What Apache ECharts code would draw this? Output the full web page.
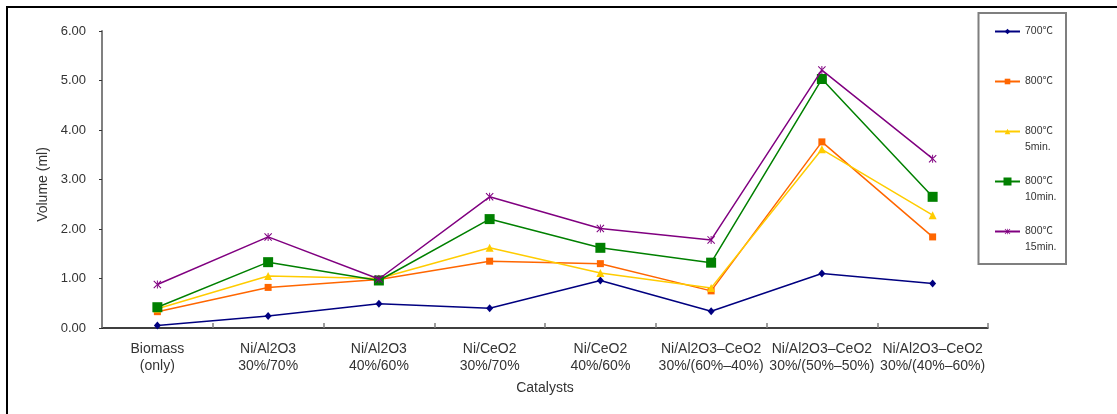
<!DOCTYPE html>
<html>
<head>
<meta charset="utf-8">
<script src="https://cdn.jsdelivr.net/npm/echarts@6/dist/echarts.min.js"></script>
<style>
html,body{margin:0;padding:0;background:#fff;}
#main{width:1117px;height:414px;}
</style>
</head>
<body>
<div id="main"></div>
<script>
const categories = [
  'Biomass\n(only)',
  'Ni/Al2O3\n30%/70%',
  'Ni/Al2O3\n40%/60%',
  'Ni/CeO2\n30%/70%',
  'Ni/CeO2\n40%/60%',
  'Ni/Al2O3–CeO2\n30%/(60%–40%)',
  'Ni/Al2O3–CeO2\n30%/(50%–50%)',
  'Ni/Al2O3–CeO2\n30%/(40%–60%)'
];
const seriesNames = ['700℃', '800℃', '800℃ 5min.', '800℃ 10min.', '800℃ 15min.'];
const legendLabels = ['700℃', '800℃', ' \n800℃\n5min.', ' \n800℃\n10min.', ' \n800℃\n15min.'];
const v700 = [0.05, 0.24, 0.49, 0.40, 0.96, 0.34, 1.10, 0.90];
const v800 = [0.33, 0.82, 0.98, 1.35, 1.30, 0.75, 3.76, 1.84];
const v800_5 = [0.39, 1.05, 1.00, 1.62, 1.11, 0.81, 3.61, 2.28];
const v800_10 = [0.42, 1.33, 0.96, 2.20, 1.62, 1.32, 5.03, 2.65];
const v800_15 = [0.88, 1.84, 0.99, 2.65, 2.01, 1.78, 5.21, 3.42];
const yTicks = { min: 0, max: 6, interval: 1 };

const seriesData = [v700, v800, v800_5, v800_10, v800_15];
const colors = ['#000080', '#FF6600', '#FFCC00', '#008000', '#800080'];
const asterisk = 'path://M4.4 0 L5.6 0 L5.6 10 L4.4 10 Z M0 0.9 L0.9 0 L10 9.1 L9.1 10 Z M10 0.9 L9.1 0 L0 9.1 L0.9 10 Z';
const symbols = ['diamond', 'rect', 'triangle', 'rect', asterisk];
const sizes = [[7, 8], 7, 8, 10, 8];
const legendIconH = [7, 7, 7, 10, 7];
const legendCenters = [31.5, 81.5, 131.5, 181.5, 231.5];
const FONT = '"Liberation Sans", Arial, "Noto Sans CJK KR", sans-serif';

const chart = echarts.init(document.getElementById('main'), null, { renderer: 'canvas' });

const legends = seriesNames.map((n, i) => {
  const lines = legendLabels[i].split('\n').length;
  const h = lines * 16;
  return {
    data: [n],
    orient: 'vertical',
    left: 994,
    top: legendCenters[i] - h / 2,
    padding: 0,
    itemWidth: 25,
    itemHeight: legendIconH[i],
    itemGap: 0,
    selectedMode: false,
    formatter: () => legendLabels[i],
    textStyle: { fontFamily: FONT, fontSize: 10.5, color: '#333', lineHeight: 16 }
  };
});

chart.setOption({
  animation: false,
  backgroundColor: '#fff',
  color: colors,
  grid: { left: 102, top: 31, right: 129, bottom: 86, containLabel: false },
  legend: legends,
  graphic: [
    { type: 'rect', shape: { x: 7, y: 7, width: 1300, height: 600 }, style: { fill: 'none', stroke: '#000', lineWidth: 2 }, silent: true, z: -1 },
    { type: 'rect', shape: { x: 978.5, y: 13, width: 87.5, height: 251 }, style: { fill: 'none', stroke: '#7f7f7f', lineWidth: 2 }, silent: true }
  ],
  xAxis: {
    type: 'category',
    data: categories,
    boundaryGap: true,
    name: 'Catalysts',
    nameLocation: 'middle',
    nameGap: 53,
    nameTextStyle: { fontFamily: FONT, fontSize: 14, color: '#333' },
    axisLine: { lineStyle: { color: '#000', width: 1.5 } },
    axisTick: { show: true, inside: true, length: 5, lineStyle: { color: '#808080', width: 1.5 } },
    axisLabel: { interval: 0, margin: 13, fontFamily: FONT, fontSize: 14, color: '#333', lineHeight: 17 },
    splitLine: { show: false }
  },
  yAxis: {
    type: 'value',
    min: yTicks.min,
    max: yTicks.max,
    interval: yTicks.interval,
    name: 'Volume (ml)',
    nameLocation: 'middle',
    nameGap: 52,
    nameRotate: 90,
    nameTextStyle: { fontFamily: FONT, fontSize: 14, color: '#333', padding: [0, 10, 0, 0] },
    axisLine: { show: true, lineStyle: { color: '#808080', width: 2 } },
    axisTick: { show: true, inside: false, length: 3, lineStyle: { color: '#333', width: 1 } },
    axisLabel: { margin: 16, fontFamily: FONT, fontSize: 13, color: '#333', formatter: v => v.toFixed(2) },
    splitLine: { show: false }
  },
  series: seriesNames.map((n, i) => ({
    name: n,
    type: 'line',
    data: seriesData[i],
    symbol: symbols[i],
    symbolSize: sizes[i],
    showAllSymbol: true,
    lineStyle: { color: colors[i], width: 1.5 },
    itemStyle: { color: colors[i] },
    z: 2 + i
  }))
});
</script>
</body>
</html>
